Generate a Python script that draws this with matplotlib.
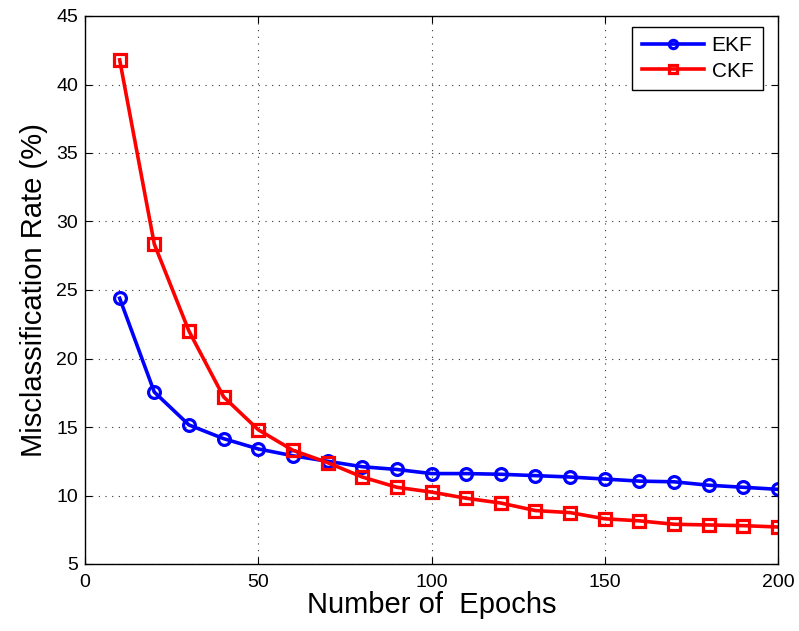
import numpy as np
import matplotlib.pyplot as plt

# --- DATA ---
epochs = [10, 20, 30, 40, 50, 60, 70, 80, 90, 100,
          110, 120, 130, 140, 150, 160, 170, 180, 190, 200]
ekf = [24.4, 17.55, 15.15, 14.15, 13.4, 12.9, 12.5, 12.1, 11.9, 11.6,
       11.6, 11.55, 11.45, 11.35, 11.2, 11.05, 11.0, 10.75, 10.6, 10.45]
ckf = [41.8, 28.35, 22.0, 17.2, 14.8, 13.3, 12.4, 11.35, 10.6, 10.25,
       9.8, 9.45, 8.9, 8.75, 8.3, 8.15, 7.9, 7.85, 7.8, 7.7]
x_ticks = [0, 50, 100, 150, 200]
y_ticks = [5, 10, 15, 20, 25, 30, 35, 40, 45]

plt.rcParams['font.family'] = ['Liberation Sans', 'DejaVu Sans']

fig = plt.figure(figsize=(7.99, 6.31), dpi=100)
ax = fig.add_axes([85 / 799, 1 - 564 / 631, (778 - 85) / 799, (564 - 16) / 631])

ax.plot(epochs, ekf, color='#0000ff', lw=2.6, marker='o', ms=8.5,
        mfc='none', mec='#0000ff', mew=2.3, label='EKF')
ax.plot(epochs, ckf, color='#ff0000', lw=2.6, marker='s', ms=8,
        mfc='none', mec='#ff0000', mew=2.3, label='CKF')

ax.set_xlim(0, 200)
ax.set_ylim(5, 45)
ax.set_xticks(x_ticks)
ax.set_yticks(y_ticks)
ax.tick_params(direction='in', labelsize=14, length=5, top=True, right=True)
ax.tick_params(axis='x', pad=7)
ax.tick_params(axis='y', pad=5)
ax.grid(True, linestyle=(0, (1, 5)), color='#333333', lw=0.8)
for s in ax.spines.values():
    s.set_linewidth(1.0)

ax.set_xlabel('Number of  Epochs', fontsize=21, labelpad=0)
ax.set_ylabel('Misclassification Rate (%)', fontsize=21, labelpad=6)

leg = ax.legend(loc='upper right', bbox_to_anchor=(0.978, 0.980), borderaxespad=0,
                fontsize=15, fancybox=False, edgecolor='black', framealpha=1,
                handlelength=3.0, handletextpad=0.35, borderpad=0.45,
                labelspacing=0.3, markerscale=0.7)
leg.get_frame().set_linewidth(1.0)

fig.savefig('out.png', dpi=100)
